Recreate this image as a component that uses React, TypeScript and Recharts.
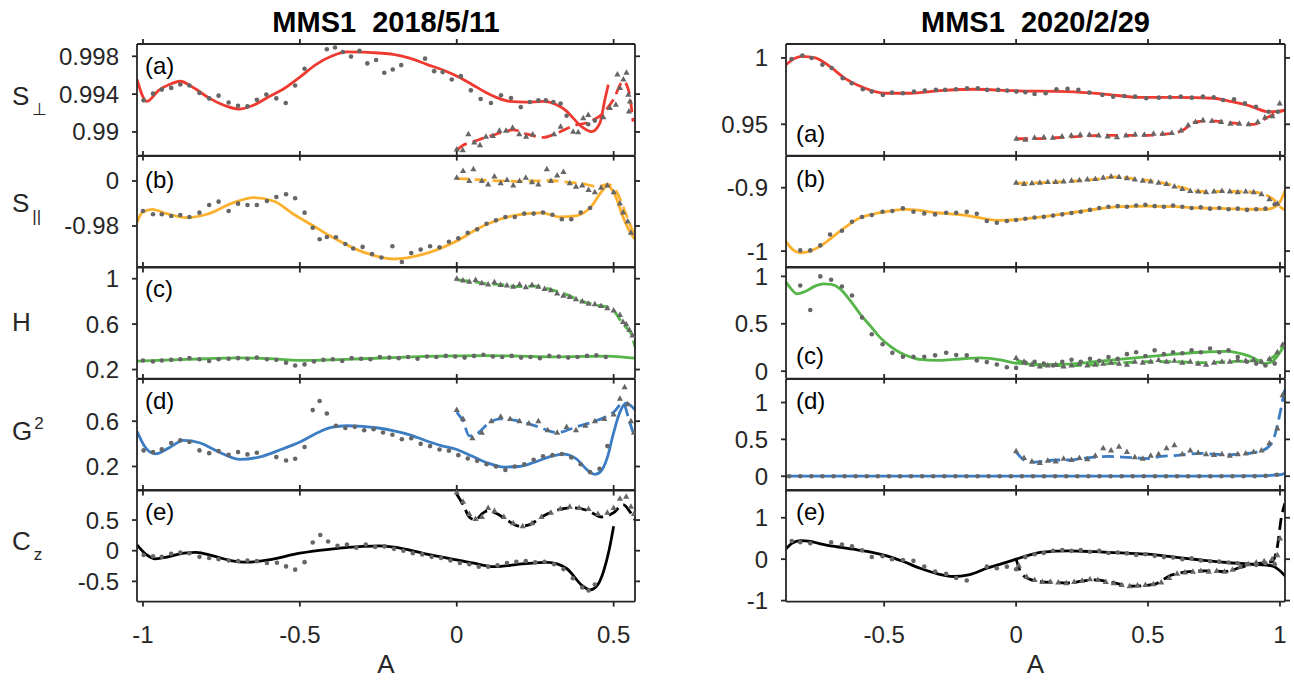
import React from "react";
import { ComposedChart, Line, Scatter, XAxis, YAxis } from "recharts";

// Two columns (two MMS1 events), five stacked panels each:
// solid fit + dots over the whole A range, dashed fit + triangles for A >= 0.

type Pt = [number, number];

const FONT = '"Liberation Sans", Arial, Helvetica, sans-serif';
const INK = "#262626";
const MARK = "#666666";

const titles = ["MMS1  2018/5/11", "MMS1  2020/2/29"];
const rowNames = ["(a)", "(b)", "(c)", "(d)", "(e)"];
const rowColors = ["#ee3a30", "#fbb12e", "#55b548", "#3b7cc3", "#000000"];

const leftXTicks = [-1, -0.5, 0, 0.5];
const rightXTicks = [-0.5, 0, 0.5, 1];

// ---------- left column, 2018/5/11 ----------
const lPerpFit: Pt[] = [[-1.019,0.99555],[-0.988,0.99323],[-0.95,0.9944],[-0.91,0.9951],[-0.881,0.99536],[-0.84,0.9947],[-0.79,0.9936],[-0.74,0.9928],[-0.695,0.99242],[-0.65,0.9928],[-0.6,0.9937],[-0.55,0.9946],[-0.5,0.9958],[-0.45,0.9971],[-0.4,0.998],[-0.35,0.99846],[-0.3,0.99845],[-0.25,0.99835],[-0.203,0.99821],[-0.15,0.9978],[-0.096,0.99715],[-0.04,0.9965],[0.011,0.99573],[0.05,0.995],[0.096,0.99413],[0.13,0.9936],[0.17,0.99323],[0.22,0.99315],[0.276,0.99323],[0.318,0.99288],[0.35,0.9922],[0.371,0.99146],[0.4,0.9905],[0.43,0.99003],[0.456,0.99093],[0.472,0.99341],[0.483,0.99501]];
const lPerpFitB: Pt[] = [[0,0.98808],[0.02,0.9886],[0.053,0.98896],[0.085,0.98935],[0.117,0.98968],[0.15,0.99],[0.18,0.99021],[0.223,0.98978],[0.276,0.98943],[0.318,0.98986],[0.371,0.99064],[0.425,0.9911],[0.467,0.99199],[0.499,0.99341],[0.531,0.99536],[0.547,0.99448],[0.562,0.9911]];
const lPerpDots: Pt[] = [[-0.998,0.99334],[-0.968,0.99405],[-0.94,0.99448],[-0.91,0.99466],[-0.881,0.99501],[-0.852,0.99491],[-0.82,0.99413],[-0.789,0.99355],[-0.759,0.99384],[-0.727,0.99312],[-0.697,0.99277],[-0.667,0.9927],[-0.637,0.99341],[-0.607,0.99395],[-0.575,0.99355],[-0.545,0.99306],[-0.515,0.99491],[-0.485,0.99669],[-0.414,0.99875],[-0.388,0.99893],[-0.363,0.99846],[-0.337,0.99797],[-0.31,0.99857],[-0.285,0.99725],[-0.257,0.99761],[-0.231,0.99626],[-0.204,0.99661],[-0.177,0.99707],[-0.101,0.99775],[-0.072,0.99643],[-0.045,0.99633],[-0.016,0.99555],[0.013,0.9959],[0.045,0.9944],[0.076,0.99349],[0.109,0.99306],[0.141,0.99387],[0.173,0.99359],[0.204,0.99263],[0.233,0.99317],[0.26,0.99334],[0.284,0.99334],[0.308,0.99317],[0.331,0.99299],[0.35,0.99171],[0.419,0.99082],[0.44,0.9912]];
const lPerpTri: Pt[] = [[0,0.98815],[0.019,0.98808],[0.037,0.98978],[0.056,0.9889],[0.074,0.98861],[0.093,0.9895],[0.115,0.98957],[0.136,0.99014],[0.157,0.99014],[0.178,0.99046],[0.199,0.98978],[0.221,0.9895],[0.242,0.98975],[0.31,0.98978],[0.331,0.99056],[0.371,0.99003],[0.387,0.98997],[0.403,0.99146],[0.419,0.99181],[0.467,0.99157],[0.488,0.99253],[0.507,0.99288],[0.512,0.99608],[0.52,0.99466],[0.531,0.99555],[0.541,0.99626],[0.547,0.99395],[0.552,0.99323],[0.549,0.99216]];

const lParFit: Pt[] = [[-1.019,-0.97853],[-1.003,-0.97409],[-0.971,-0.97258],[-0.924,-0.97453],[-0.86,-0.97631],[-0.796,-0.9748],[-0.711,-0.96964],[-0.648,-0.96742],[-0.584,-0.96889],[-0.52,-0.9748],[-0.46,-0.9797],[-0.403,-0.98444],[-0.3,-0.9915],[-0.2,-0.99467],[-0.1,-0.9923],[0,-0.98667],[0.07,-0.981],[0.14,-0.97689],[0.2,-0.975],[0.27,-0.97422],[0.33,-0.976],[0.38,-0.9755],[0.43,-0.9711],[0.46,-0.965],[0.48,-0.9622],[0.5,-0.965],[0.53,-0.976],[0.55,-0.9822],[0.568,-0.986]];
const lParFitB: Pt[] = [[0,-0.959],[0.05,-0.9592],[0.1,-0.9598],[0.15,-0.96],[0.2,-0.9602],[0.25,-0.96],[0.3,-0.9598],[0.35,-0.9605],[0.4,-0.9612],[0.45,-0.9625],[0.48,-0.9615],[0.51,-0.965],[0.54,-0.975],[0.568,-0.985]];
const lParDots: Pt[] = [[-1.0,-0.97333],[-0.968,-0.9748],[-0.94,-0.9748],[-0.91,-0.97556],[-0.881,-0.97511],[-0.852,-0.976],[-0.82,-0.97409],[-0.789,-0.97067],[-0.759,-0.9692],[-0.727,-0.97333],[-0.697,-0.97009],[-0.667,-0.97067],[-0.637,-0.97067],[-0.605,-0.96889],[-0.575,-0.96711],[-0.544,-0.96591],[-0.515,-0.96769],[-0.485,-0.97409],[-0.459,-0.98076],[-0.437,-0.98593],[-0.414,-0.98489],[-0.385,-0.985],[-0.355,-0.988],[-0.33,-0.99],[-0.3,-0.9893],[-0.27,-0.9925],[-0.24,-0.994],[-0.205,-0.989],[-0.175,-0.996],[-0.145,-0.992],[-0.115,-0.9905],[-0.085,-0.989],[-0.055,-0.9895],[-0.025,-0.987],[0.005,-0.9855],[0.035,-0.983],[0.065,-0.9815],[0.095,-0.979],[0.125,-0.9775],[0.155,-0.976],[0.185,-0.976],[0.215,-0.9745],[0.245,-0.9745],[0.275,-0.974],[0.305,-0.975],[0.335,-0.977],[0.365,-0.977],[0.395,-0.974],[0.425,-0.972]];
const lParTri: Pt[] = [[0,-0.9585],[0.02,-0.9555],[0.04,-0.96],[0.053,-0.9548],[0.08,-0.96],[0.1,-0.9615],[0.12,-0.958],[0.14,-0.961],[0.16,-0.9595],[0.18,-0.962],[0.2,-0.96],[0.22,-0.9585],[0.24,-0.9605],[0.26,-0.9615],[0.287,-0.9548],[0.3,-0.96],[0.32,-0.9575],[0.34,-0.956],[0.36,-0.961],[0.38,-0.9625],[0.4,-0.962],[0.42,-0.964],[0.44,-0.965],[0.46,-0.963],[0.48,-0.962],[0.5,-0.965],[0.52,-0.97],[0.53,-0.974],[0.545,-0.978],[0.555,-0.983]];
const lParTickVals = [-0.98, -0.96];
const lParTickLabels = ["-0.98", "0"];

const lHFit: Pt[] = [[-1.019,0.274],[-0.9,0.285],[-0.8,0.295],[-0.7,0.302],[-0.6,0.296],[-0.5,0.28],[-0.4,0.285],[-0.3,0.295],[-0.2,0.305],[-0.1,0.315],[0,0.32],[0.1,0.322],[0.2,0.318],[0.3,0.312],[0.4,0.315],[0.48,0.318],[0.53,0.31],[0.568,0.3]];
const lHFitB: Pt[] = [[0,0.99],[0.05,0.975],[0.1,0.955],[0.15,0.945],[0.2,0.93],[0.25,0.935],[0.3,0.905],[0.35,0.86],[0.4,0.8],[0.45,0.765],[0.48,0.75],[0.5,0.72],[0.52,0.64],[0.54,0.57],[0.555,0.52],[0.568,0.4]];
const lHDots: Pt[] = [[-1.0,0.28],[-0.968,0.27],[-0.94,0.28],[-0.91,0.285],[-0.881,0.29],[-0.852,0.3],[-0.82,0.29],[-0.789,0.275],[-0.759,0.29],[-0.727,0.295],[-0.697,0.3],[-0.667,0.295],[-0.637,0.305],[-0.605,0.29],[-0.575,0.285],[-0.544,0.26],[-0.515,0.235],[-0.485,0.245],[-0.455,0.27],[-0.425,0.285],[-0.395,0.29],[-0.365,0.275],[-0.335,0.3],[-0.305,0.295],[-0.275,0.29],[-0.245,0.31],[-0.215,0.305],[-0.185,0.3],[-0.155,0.31],[-0.125,0.295],[-0.095,0.315],[-0.065,0.31],[-0.035,0.32],[-0.005,0.315],[0.025,0.305],[0.055,0.32],[0.085,0.33],[0.115,0.315],[0.145,0.31],[0.175,0.32],[0.205,0.305],[0.235,0.31],[0.265,0.3],[0.295,0.32],[0.325,0.315],[0.355,0.305],[0.385,0.31],[0.415,0.32],[0.445,0.325],[0.475,0.31]];
const lHTri: Pt[] = [[0,1.0],[0.02,0.985],[0.04,0.975],[0.06,0.99],[0.08,0.96],[0.1,0.95],[0.12,0.97],[0.14,0.945],[0.16,0.94],[0.18,0.93],[0.2,0.95],[0.22,0.925],[0.24,0.945],[0.26,0.93],[0.28,0.91],[0.3,0.9],[0.32,0.87],[0.34,0.85],[0.36,0.84],[0.38,0.82],[0.4,0.8],[0.42,0.78],[0.44,0.775],[0.46,0.76],[0.48,0.74],[0.5,0.72],[0.52,0.68],[0.53,0.62],[0.54,0.6],[0.55,0.55],[0.56,0.5]];

const lGFit: Pt[] = [[-1.019,0.511],[-0.99,0.36],[-0.96,0.312],[-0.92,0.36],[-0.87,0.431],[-0.82,0.41],[-0.76,0.33],[-0.69,0.262],[-0.62,0.29],[-0.56,0.35],[-0.5,0.416],[-0.45,0.49],[-0.4,0.545],[-0.35,0.56],[-0.3,0.555],[-0.25,0.54],[-0.2,0.515],[-0.15,0.48],[-0.1,0.43],[-0.05,0.385],[0,0.35],[0.05,0.29],[0.1,0.23],[0.15,0.195],[0.2,0.2],[0.25,0.24],[0.3,0.29],[0.34,0.31],[0.38,0.27],[0.42,0.16],[0.44,0.13],[0.46,0.16],[0.48,0.28],[0.5,0.5],[0.52,0.68],[0.54,0.76],[0.568,0.7]];
const lGFitB: Pt[] = [[0,0.68],[0.02,0.6],[0.04,0.47],[0.07,0.5],[0.1,0.58],[0.14,0.62],[0.2,0.6],[0.26,0.55],[0.32,0.5],[0.38,0.55],[0.44,0.6],[0.5,0.68],[0.53,0.76],[0.55,0.6],[0.568,0.45]];
const lGDots: Pt[] = [[-0.998,0.342],[-0.968,0.327],[-0.94,0.351],[-0.91,0.407],[-0.881,0.431],[-0.852,0.416],[-0.82,0.342],[-0.789,0.318],[-0.759,0.336],[-0.727,0.303],[-0.697,0.327],[-0.667,0.307],[-0.637,0.321],[-0.575,0.283],[-0.544,0.253],[-0.515,0.268],[-0.485,0.372],[-0.459,0.698],[-0.437,0.778],[-0.414,0.668],[-0.385,0.56],[-0.355,0.54],[-0.325,0.55],[-0.295,0.52],[-0.265,0.53],[-0.235,0.5],[-0.205,0.48],[-0.175,0.44],[-0.145,0.45],[-0.115,0.4],[-0.085,0.38],[-0.055,0.35],[-0.025,0.34],[0.005,0.3],[0.035,0.27],[0.065,0.25],[0.095,0.22],[0.125,0.2],[0.155,0.17],[0.185,0.2],[0.215,0.22],[0.245,0.26],[0.275,0.29],[0.305,0.3],[0.335,0.31],[0.365,0.28],[0.395,0.22],[0.425,0.15],[0.455,0.18],[0.48,0.38]];
const lGTri: Pt[] = [[0,0.7],[0.02,0.62],[0.05,0.45],[0.08,0.5],[0.11,0.6],[0.14,0.64],[0.17,0.62],[0.2,0.6],[0.23,0.58],[0.26,0.6],[0.29,0.52],[0.32,0.5],[0.35,0.55],[0.38,0.52],[0.41,0.56],[0.44,0.6],[0.47,0.62],[0.5,0.66],[0.52,0.8],[0.535,0.9],[0.545,0.75],[0.555,0.6],[0.565,0.5]];

const lCFit: Pt[] = [[-1.019,0.096],[-0.99,-0.06],[-0.96,-0.133],[-0.92,-0.1],[-0.87,-0.04],[-0.83,-0.027],[-0.78,-0.08],[-0.72,-0.16],[-0.67,-0.187],[-0.6,-0.15],[-0.5,-0.04],[-0.4,0.027],[-0.3,0.07],[-0.25,0.08],[-0.2,0.06],[-0.1,-0.05],[0,-0.15],[0.05,-0.2],[0.12,-0.26],[0.2,-0.22],[0.29,-0.19],[0.35,-0.29],[0.4,-0.57],[0.425,-0.64],[0.45,-0.55],[0.47,-0.3],[0.485,0.0],[0.5,0.4]];
const lCFitB: Pt[] = [[0,0.92],[0.02,0.75],[0.04,0.55],[0.06,0.5],[0.08,0.6],[0.1,0.65],[0.13,0.6],[0.16,0.5],[0.2,0.4],[0.23,0.42],[0.27,0.55],[0.32,0.66],[0.37,0.7],[0.42,0.65],[0.46,0.55],[0.5,0.62],[0.53,0.75],[0.55,0.65],[0.568,0.5]];
const lCDots: Pt[] = [[-0.998,-0.07],[-0.968,-0.09],[-0.94,-0.1],[-0.91,-0.05],[-0.881,-0.03],[-0.852,-0.04],[-0.82,-0.1],[-0.789,-0.12],[-0.759,-0.14],[-0.727,-0.16],[-0.697,-0.17],[-0.667,-0.16],[-0.637,-0.17],[-0.605,-0.2],[-0.573,-0.197],[-0.544,-0.256],[-0.515,-0.309],[-0.485,-0.187],[-0.459,0.133],[-0.435,0.256],[-0.41,0.149],[-0.38,0.08],[-0.35,0.1],[-0.32,0.05],[-0.29,0.1],[-0.26,0.06],[-0.23,0.07],[-0.2,0.03],[-0.17,0.0],[-0.14,-0.04],[-0.11,-0.06],[-0.08,-0.1],[-0.05,-0.12],[-0.02,-0.16],[0.01,-0.2],[0.04,-0.22],[0.07,-0.26],[0.1,-0.26],[0.13,-0.24],[0.16,-0.2],[0.19,-0.18],[0.22,-0.17],[0.25,-0.19],[0.28,-0.18],[0.31,-0.22],[0.34,-0.3],[0.37,-0.45],[0.4,-0.6],[0.42,-0.65],[0.44,-0.55]];
const lCTri: Pt[] = [[0,0.95],[0.02,0.8],[0.04,0.6],[0.06,0.52],[0.08,0.55],[0.1,0.7],[0.12,0.65],[0.15,0.55],[0.18,0.45],[0.21,0.4],[0.24,0.45],[0.27,0.55],[0.3,0.62],[0.33,0.68],[0.36,0.72],[0.39,0.7],[0.42,0.68],[0.45,0.6],[0.48,0.62],[0.5,0.7],[0.52,0.85],[0.54,0.88],[0.555,0.72],[0.565,0.6]];

// ---------- right column, 2020/2/29 ----------
const rPerpFit: Pt[] = [[-0.872,0.9949],[-0.84,0.9995],[-0.81,1.0012],[-0.761,1.0],[-0.706,0.9936],[-0.65,0.9848],[-0.581,0.9779],[-0.498,0.9734],[-0.401,0.9734],[-0.29,0.9753],[-0.152,0.9764],[-0.013,0.9753],[0.195,0.9746],[0.333,0.9728],[0.472,0.9703],[0.61,0.9703],[0.749,0.9696],[0.818,0.967],[0.888,0.9637],[0.957,0.9594],[1.019,0.9607]];
const rPerpFitB: Pt[] = [[0,0.9391],[0.056,0.9391],[0.195,0.9403],[0.333,0.9416],[0.472,0.9416],[0.583,0.9429],[0.631,0.9454],[0.681,0.9518],[0.736,0.9525],[0.818,0.951],[0.901,0.95],[0.957,0.9556],[0.999,0.9594],[1.019,0.9607]];
const rPerpDots: Pt[] = [[-0.851,0.99924],[-0.81,1.0018],[-0.775,1.0],[-0.734,0.99493],[-0.699,0.99239],[-0.657,0.98478],[-0.623,0.98097],[-0.581,0.97641],[-0.547,0.97463],[-0.505,0.97209],[-0.47,0.97387],[-0.429,0.97336],[-0.387,0.97463],[-0.346,0.97539],[-0.304,0.9759],[-0.269,0.9759],[-0.228,0.97641],[-0.186,0.97717],[-0.145,0.97717],[-0.11,0.9759],[-0.068,0.9759],[-0.034,0.97539],[0.001,0.97463],[0.035,0.97412],[0.07,0.97285],[0.112,0.97336],[0.153,0.97641],[0.195,0.97666],[0.236,0.9759],[0.278,0.97387],[0.327,0.97209],[0.368,0.97082],[0.41,0.97133],[0.451,0.97082],[0.493,0.96956],[0.541,0.97006],[0.583,0.97032],[0.624,0.97082],[0.666,0.97006],[0.708,0.97082],[0.749,0.97032],[0.784,0.96829],[0.826,0.9688],[0.867,0.96575],[0.909,0.96321],[0.957,0.95941],[0.992,0.95941]];
const rPerpTri: Pt[] = [[0.001,0.93911],[0.035,0.93835],[0.07,0.93987],[0.105,0.94038],[0.139,0.93987],[0.174,0.94089],[0.209,0.94165],[0.243,0.94216],[0.278,0.94216],[0.313,0.94165],[0.347,0.94089],[0.382,0.94038],[0.417,0.94165],[0.451,0.94241],[0.486,0.94216],[0.521,0.94292],[0.555,0.94292],[0.59,0.94343],[0.625,0.94546],[0.652,0.94926],[0.68,0.9518],[0.708,0.95307],[0.742,0.95256],[0.777,0.9518],[0.812,0.95053],[0.846,0.95053],[0.881,0.95002],[0.916,0.9518],[0.943,0.9551],[0.971,0.95611],[0.999,0.96575]];

const rParFit: Pt[] = [[-0.872,-0.985],[-0.845,-0.998],[-0.818,-1.0027],[-0.78,-1.0],[-0.742,-0.9921],[-0.667,-0.9684],[-0.591,-0.9474],[-0.515,-0.9395],[-0.414,-0.9341],[-0.3,-0.9395],[-0.174,-0.9447],[-0.073,-0.9515],[0.015,-0.9499],[0.1,-0.946],[0.2,-0.94],[0.3,-0.934],[0.4,-0.93],[0.5,-0.929],[0.6,-0.93],[0.7,-0.932],[0.8,-0.933],[0.9,-0.934],[0.95,-0.934],[0.99,-0.928],[1.019,-0.905]];
const rParFitB: Pt[] = [[0,-0.893],[0.1,-0.892],[0.2,-0.89],[0.3,-0.887],[0.38,-0.883],[0.45,-0.886],[0.55,-0.892],[0.63,-0.9],[0.7,-0.906],[0.8,-0.906],[0.9,-0.907],[0.95,-0.912],[0.98,-0.92],[1.0,-0.93],[1.019,-0.935]];
const rParDots: Pt[] = [[-0.818,-0.9989],[-0.78,-0.9989],[-0.742,-0.991],[-0.705,-0.9737],[-0.66,-0.968],[-0.622,-0.9537],[-0.584,-0.9463],[-0.547,-0.9431],[-0.506,-0.9379],[-0.469,-0.9368],[-0.429,-0.9326],[-0.389,-0.9379],[-0.348,-0.9405],[-0.307,-0.9421],[-0.265,-0.9395],[-0.227,-0.9395],[-0.187,-0.9379],[-0.149,-0.9411],[-0.111,-0.9526],[-0.073,-0.9553],[-0.035,-0.9526],[0,-0.951],[0.035,-0.949],[0.07,-0.947],[0.105,-0.946],[0.14,-0.944],[0.175,-0.942],[0.21,-0.94],[0.245,-0.938],[0.28,-0.935],[0.315,-0.932],[0.35,-0.93],[0.385,-0.929],[0.42,-0.93],[0.455,-0.928],[0.49,-0.927],[0.525,-0.929],[0.56,-0.93],[0.595,-0.928],[0.63,-0.93],[0.665,-0.932],[0.7,-0.931],[0.735,-0.933],[0.77,-0.932],[0.805,-0.934],[0.84,-0.933],[0.875,-0.935],[0.91,-0.934],[0.945,-0.933],[0.98,-0.926]];
const rParTri: Pt[] = [[0,-0.892],[0.03,-0.894],[0.06,-0.893],[0.09,-0.892],[0.12,-0.891],[0.15,-0.891],[0.18,-0.89],[0.21,-0.889],[0.24,-0.888],[0.27,-0.887],[0.3,-0.886],[0.33,-0.884],[0.36,-0.882],[0.39,-0.883],[0.42,-0.885],[0.45,-0.887],[0.48,-0.889],[0.51,-0.89],[0.54,-0.892],[0.57,-0.894],[0.6,-0.898],[0.63,-0.902],[0.66,-0.905],[0.69,-0.906],[0.72,-0.907],[0.75,-0.906],[0.78,-0.905],[0.81,-0.906],[0.84,-0.907],[0.87,-0.906],[0.9,-0.907],[0.93,-0.91],[0.96,-0.918],[0.99,-0.925]];

const rHFit: Pt[] = [[-0.872,0.94],[-0.85,0.86],[-0.831,0.816],[-0.8,0.84],[-0.76,0.9],[-0.73,0.922],[-0.7,0.915],[-0.667,0.869],[-0.63,0.75],[-0.591,0.603],[-0.55,0.47],[-0.515,0.354],[-0.475,0.26],[-0.439,0.195],[-0.4,0.15],[-0.364,0.124],[-0.3,0.115],[-0.238,0.124],[-0.136,0.141],[-0.06,0.12],[-0.01,0.088],[0.1,0.07],[0.2,0.075],[0.3,0.1],[0.45,0.14],[0.6,0.18],[0.7,0.2],[0.8,0.21],[0.86,0.18],[0.9,0.14],[0.94,0.08],[0.97,0.1],[1.0,0.2],[1.019,0.28]];
const rHFitB: Pt[] = [[0,0.12],[0.05,0.08],[0.1,0.06],[0.2,0.06],[0.3,0.07],[0.4,0.09],[0.5,0.1],[0.6,0.1],[0.7,0.09],[0.8,0.1],[0.9,0.11],[0.95,0.12],[1.0,0.22],[1.019,0.3]];
const rHDots: Pt[] = [[-0.818,0.904],[-0.78,0.646],[-0.742,1.0],[-0.701,0.965],[-0.66,0.894],[-0.622,0.798],[-0.584,0.567],[-0.547,0.39],[-0.506,0.284],[-0.469,0.195],[-0.429,0.152],[-0.389,0.152],[-0.348,0.152],[-0.307,0.167],[-0.265,0.195],[-0.227,0.17],[-0.187,0.167],[-0.149,0.114],[-0.111,0.096],[-0.073,0.071],[-0.035,0.042],[0,0.035],[0.035,0.09],[0.07,0.1],[0.105,0.08],[0.14,0.06],[0.175,0.1],[0.21,0.12],[0.245,0.1],[0.28,0.13],[0.315,0.11],[0.35,0.15],[0.385,0.13],[0.42,0.18],[0.455,0.2],[0.49,0.16],[0.525,0.22],[0.56,0.18],[0.595,0.2],[0.63,0.19],[0.665,0.22],[0.7,0.2],[0.735,0.24],[0.77,0.2],[0.805,0.22],[0.84,0.15],[0.875,0.1],[0.91,0.08],[0.945,0.06],[0.98,0.08]];
const rHTri: Pt[] = [[0,0.14],[0.03,0.1],[0.06,0.07],[0.09,0.05],[0.12,0.06],[0.15,0.07],[0.18,0.05],[0.21,0.06],[0.24,0.08],[0.27,0.06],[0.3,0.07],[0.33,0.08],[0.36,0.09],[0.39,0.08],[0.42,0.07],[0.45,0.1],[0.48,0.09],[0.51,0.1],[0.54,0.12],[0.57,0.1],[0.6,0.11],[0.63,0.09],[0.66,0.1],[0.69,0.08],[0.72,0.07],[0.75,0.09],[0.78,0.1],[0.81,0.1],[0.84,0.12],[0.87,0.11],[0.9,0.12],[0.93,0.1],[0.96,0.13],[0.99,0.2],[1.01,0.28]];

const rGFit: Pt[] = [[-0.872,0.0],[-0.5,0.0],[0,0.0],[0.5,0.0],[0.9,0.005],[1.0,0.02],[1.019,0.04]];
const rGFitB: Pt[] = [[0,0.33],[0.03,0.22],[0.06,0.19],[0.1,0.2],[0.15,0.22],[0.2,0.22],[0.25,0.24],[0.3,0.26],[0.35,0.27],[0.4,0.26],[0.45,0.25],[0.5,0.24],[0.55,0.27],[0.6,0.28],[0.65,0.3],[0.7,0.31],[0.75,0.3],[0.8,0.29],[0.85,0.3],[0.9,0.32],[0.95,0.38],[0.98,0.55],[1.0,0.85],[1.019,1.2]];
const rGDots: Pt[] = [[-0.86,0],[-0.818,0],[-0.776,0],[-0.734,0],[-0.692,0],[-0.65,0],[-0.608,0],[-0.566,0],[-0.524,0],[-0.482,0],[-0.44,0],[-0.398,0],[-0.356,0],[-0.314,0],[-0.272,0],[-0.23,0],[-0.188,0],[-0.146,0],[-0.104,0],[-0.062,0],[-0.02,0],[0.022,0],[0.064,0],[0.106,0],[0.148,0],[0.19,0],[0.232,0],[0.274,0],[0.316,0],[0.358,0],[0.4,0],[0.442,0],[0.484,0],[0.526,0],[0.568,0],[0.61,0],[0.652,0],[0.694,0],[0.736,0],[0.778,0],[0.82,0],[0.862,0],[0.904,0],[0.946,0.005],[0.988,0.02]];
const rGTri: Pt[] = [[0,0.34],[0.03,0.25],[0.06,0.2],[0.09,0.18],[0.12,0.21],[0.15,0.2],[0.18,0.24],[0.21,0.22],[0.24,0.25],[0.27,0.23],[0.3,0.28],[0.33,0.38],[0.36,0.35],[0.39,0.4],[0.42,0.33],[0.45,0.26],[0.48,0.24],[0.51,0.28],[0.54,0.3],[0.57,0.38],[0.6,0.42],[0.63,0.3],[0.66,0.35],[0.69,0.32],[0.72,0.3],[0.75,0.29],[0.78,0.3],[0.81,0.28],[0.84,0.3],[0.87,0.31],[0.9,0.33],[0.93,0.35],[0.96,0.45],[0.99,0.65],[1.01,1.1]];

const rCFit: Pt[] = [[-0.872,0.253],[-0.85,0.38],[-0.818,0.449],[-0.78,0.43],[-0.742,0.371],[-0.68,0.3],[-0.616,0.24],[-0.55,0.17],[-0.49,0.08],[-0.43,-0.05],[-0.364,-0.22],[-0.3,-0.35],[-0.238,-0.418],[-0.18,-0.38],[-0.111,-0.22],[-0.05,-0.1],[0,0.0],[0.05,0.1],[0.1,0.17],[0.2,0.2],[0.3,0.18],[0.4,0.15],[0.5,0.12],[0.6,0.05],[0.7,-0.02],[0.8,-0.08],[0.9,-0.12],[0.97,-0.16],[1.0,-0.28],[1.019,-0.4]];
const rCFitB: Pt[] = [[0,0.0],[0.02,-0.34],[0.05,-0.48],[0.09,-0.54],[0.14,-0.56],[0.2,-0.57],[0.25,-0.53],[0.3,-0.5],[0.36,-0.56],[0.44,-0.65],[0.52,-0.61],[0.59,-0.38],[0.66,-0.3],[0.72,-0.28],[0.79,-0.3],[0.86,-0.18],[0.92,-0.1],[0.97,-0.06],[0.99,0.3],[1.005,1.0],[1.019,1.35]];
const rCDots: Pt[] = [[-0.85,0.44],[-0.818,0.41],[-0.78,0.386],[-0.701,0.41],[-0.66,0.355],[-0.622,0.308],[-0.584,0.213],[-0.547,0.054],[-0.506,0.071],[-0.47,0.0],[-0.429,-0.02],[-0.389,-0.04],[-0.348,-0.18],[-0.307,-0.3],[-0.265,-0.355],[-0.227,-0.456],[-0.187,-0.513],[-0.111,-0.18],[-0.073,-0.22],[-0.035,-0.18],[0,-0.243],[0.035,0.05],[0.07,0.12],[0.105,0.15],[0.14,0.2],[0.175,0.22],[0.21,0.2],[0.245,0.22],[0.28,0.18],[0.315,0.2],[0.35,0.15],[0.385,0.16],[0.42,0.14],[0.455,0.1],[0.49,0.12],[0.525,0.08],[0.56,0.05],[0.595,0.04],[0.63,0.0],[0.665,0.02],[0.7,-0.03],[0.735,-0.05],[0.77,-0.06],[0.805,-0.08],[0.84,-0.1],[0.875,-0.12],[0.91,-0.14],[0.945,-0.1],[0.98,-0.12]];
const rCTri: Pt[] = [[0.01,-0.15],[0.04,-0.42],[0.07,-0.5],[0.1,-0.55],[0.13,-0.54],[0.16,-0.56],[0.19,-0.58],[0.22,-0.55],[0.25,-0.52],[0.28,-0.48],[0.31,-0.5],[0.34,-0.55],[0.37,-0.58],[0.4,-0.62],[0.43,-0.65],[0.46,-0.63],[0.49,-0.62],[0.52,-0.6],[0.55,-0.56],[0.58,-0.45],[0.61,-0.35],[0.64,-0.32],[0.67,-0.3],[0.7,-0.28],[0.73,-0.3],[0.76,-0.28],[0.79,-0.3],[0.82,-0.25],[0.85,-0.18],[0.88,-0.12],[0.91,-0.08],[0.94,-0.05],[0.97,0.0],[0.99,0.1],[1.0,0.5]];

// ---------- layout ----------
const TOP = 44;
const PH = 111.6;
const PAD = 10;

const columns = [
  { chartLeft: 0, plotLeft: 137, plotW: 498, domain: [-1.019, 0.568], ticks: leftXTicks, labelX: 145 },
  { chartLeft: 700, plotLeft: 786, plotW: 499, domain: [-0.872, 1.019], ticks: rightXTicks, labelX: 796 },
];

const panels = [
  [
    { fit: lPerpFit, fitB: lPerpFitB, dots: lPerpDots, tri: lPerpTri, domain: [0.9875, 0.9993], ticks: [0.99, 0.994, 0.998], labelY: 66 },
    { fit: lParFit, fitB: lParFitB, dots: lParDots, tri: lParTri, domain: [-0.9985, -0.9489], ticks: lParTickVals, tickLabels: lParTickLabels, labelY: 180 },
    { fit: lHFit, fitB: lHFitB, dots: lHDots, tri: lHTri, domain: [0.12, 1.103], ticks: [0.2, 0.6, 1], labelY: 289 },
    { fit: lGFit, fitB: lGFitB, dots: lGDots, tri: lGTri, domain: [-0.013, 0.973], ticks: [0.2, 0.6], labelY: 401 },
    { fit: lCFit, fitB: lCFitB, dots: lCDots, tri: lCTri, domain: [-0.83, 0.99], ticks: [-0.5, 0, 0.5], labelY: 512 },
  ],
  [
    { fit: rPerpFit, fitB: rPerpFitB, dots: rPerpDots, tri: rPerpTri, domain: [0.9264, 1.0105], ticks: [0.95, 1], labelY: 134 },
    { fit: rParFit, fitB: rParFitB, dots: rParDots, tri: rParTri, domain: [-1.026, -0.85], ticks: [-1, -0.9], labelY: 179 },
    { fit: rHFit, fitB: rHFitB, dots: rHDots, tri: rHTri, domain: [-0.078, 1.099], ticks: [0, 0.5, 1], labelY: 356 },
    { fit: rGFit, fitB: rGFitB, dots: rGDots, tri: rGTri, domain: [-0.195, 1.319], ticks: [0, 0.5, 1], labelY: 401 },
    { fit: rCFit, fitB: rCFitB, dots: rCDots, tri: rCTri, domain: [-1.024, 1.67], ticks: [-1, 0, 1], labelY: 512 },
  ],
];

const toXY = (pts: Pt[]) => pts.map(([x, y]) => ({ x, y }));

const DotShape = (p: any) => <circle cx={p.cx} cy={p.cy} r={2.3} fill={MARK} />;
const TriShape = (p: any) => (
  <path
    d={`M${p.cx},${p.cy - 3.4}L${p.cx + 3.1},${p.cy + 2.1}L${p.cx - 3.1},${p.cy + 2.1}Z`}
    fill={MARK}
  />
);

const axisStroke = { stroke: INK, strokeWidth: 1.8 };
const tickFont = { fontSize: 24, fill: INK, fontFamily: FONT };

function Panel({ col, row }: { col: number; row: number }) {
  const c = columns[col];
  const p: any = panels[col][row];
  const bottom = row === 4;
  const yw = c.plotLeft - c.chartLeft;
  const mb = bottom ? 70 : PAD;
  const color = rowColors[row];
  const fmtY = (v: number) => {
    if (p.tickLabels) {
      const i = p.ticks.indexOf(v);
      return i >= 0 ? p.tickLabels[i] : "";
    }
    return String(v);
  };
  // the mirrored top / right axes get 1px of room (zero-size axes are not drawn)
  return (
    <div style={{ position: "absolute", left: c.chartLeft, top: TOP + row * PH - PAD }}>
      <ComposedChart
        width={yw + c.plotW + PAD}
        height={PH + PAD + mb}
        margin={{ top: PAD - 1, right: PAD - 1, bottom: mb - 1, left: 0 }}
      >
        <XAxis
          xAxisId="b"
          type="number"
          dataKey="x"
          domain={c.domain}
          ticks={c.ticks}
          interval={0}
          allowDataOverflow
          orientation="bottom"
          height={1}
          tickSize={5}
          tickMargin={19}
          axisLine={axisStroke}
          tickLine={axisStroke}
          tick={tickFont}
          tickFormatter={(v: number) => (bottom ? String(v) : "")}
        />
        <XAxis
          xAxisId="t"
          type="number"
          dataKey="x"
          domain={c.domain}
          ticks={c.ticks}
          interval={0}
          allowDataOverflow
          orientation="top"
          height={1}
          tickSize={5}
          axisLine={axisStroke}
          tickLine={axisStroke}
          tick={tickFont}
          tickFormatter={() => ""}
        />
        <YAxis
          yAxisId="l"
          type="number"
          dataKey="y"
          domain={p.domain}
          ticks={p.ticks}
          interval={0}
          allowDataOverflow
          width={yw}
          tickSize={5}
          tickMargin={13}
          axisLine={axisStroke}
          tickLine={axisStroke}
          tick={tickFont}
          tickFormatter={fmtY}
        />
        <YAxis
          yAxisId="r"
          type="number"
          dataKey="y"
          orientation="right"
          domain={p.domain}
          ticks={p.ticks}
          interval={0}
          allowDataOverflow
          width={1}
          tickSize={5}
          axisLine={axisStroke}
          tickLine={axisStroke}
          tick={tickFont}
          tickFormatter={() => ""}
        />
        <Line xAxisId="b" yAxisId="l" data={toXY(p.fit)} dataKey="y" type="monotone" stroke={color} strokeWidth={2.8} dot={false} activeDot={false} isAnimationActive={false} />
        <Line xAxisId="b" yAxisId="l" data={toXY(p.fitB)} dataKey="y" type="monotone" stroke={color} strokeWidth={2.8} strokeDasharray="12 6" dot={false} activeDot={false} isAnimationActive={false} />
        <Scatter xAxisId="b" yAxisId="l" data={toXY(p.dots)} dataKey="y" shape={DotShape} isAnimationActive={false} />
        <Scatter xAxisId="b" yAxisId="l" data={toXY(p.tri)} dataKey="y" shape={TriShape} isAnimationActive={false} />
      </ComposedChart>
    </div>
  );
}

const yTitles = [
  { main: "S", sub: "\u22a5", sup: "", y: 96 },
  { main: "S", sub: "||", sup: "", y: 203 },
  { main: "H", sub: "", sup: "", y: 322 },
  { main: "G", sub: "", sup: "2", y: 431 },
  { main: "C", sub: "z", sup: "", y: 541 },
];

export default function App() {
  return (
    <div
      style={{
        position: "absolute",
        left: 0,
        top: 0,
        width: 1294,
        height: 681,
        background: "#fff",
        fontFamily: FONT,
        color: INK,
        overflow: "hidden",
      }}
    >
      {[0, 1].map((col) => (
        <React.Fragment key={col}>
          {[0, 1, 2, 3, 4].map((row) => (
            <Panel key={row} col={col} row={row} />
          ))}
          <div
            style={{
              position: "absolute",
              left: columns[col].plotLeft,
              width: columns[col].plotW,
              top: 22,
              transform: "translateY(-50%)",
              textAlign: "center",
              fontSize: 29,
              fontWeight: "bold",
              color: "#000",
              lineHeight: 1,
              whiteSpace: "pre",
            }}
          >
            {titles[col]}
          </div>
          <div
            style={{
              position: "absolute",
              left: columns[col].plotLeft,
              width: columns[col].plotW,
              top: 664,
              transform: "translateY(-50%)",
              textAlign: "center",
              fontSize: 26,
              lineHeight: 1,
            }}
          >
            A
          </div>
          {rowNames.map((nm, row) => (
            <div
              key={nm}
              style={{
                position: "absolute",
                left: columns[col].labelX,
                top: (panels[col][row] as any).labelY,
                transform: "translateY(-50%)",
                fontSize: 24,
                lineHeight: 1,
                color: "#000",
              }}
            >
              {nm}
            </div>
          ))}
        </React.Fragment>
      ))}
      {yTitles.map((t, i) => (
        <div
          key={i}
          style={{
            position: "absolute",
            left: 12,
            top: t.y,
            transform: "translateY(-50%)",
            fontSize: 26,
            lineHeight: 1,
            whiteSpace: "nowrap",
          }}
        >
          {t.main}
          {t.sub && (
            <span style={{ fontSize: 17, position: "relative", top: 10, marginLeft: 3 }}>{t.sub}</span>
          )}
          {t.sup && (
            <span style={{ fontSize: 17, position: "relative", top: -11, marginLeft: 2 }}>{t.sup}</span>
          )}
        </div>
      ))}
    </div>
  );
}
